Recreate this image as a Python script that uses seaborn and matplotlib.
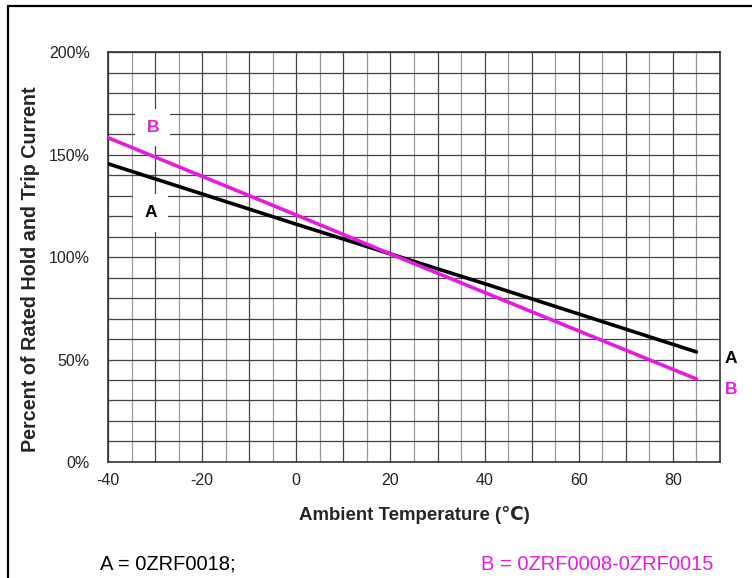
import numpy as np
import pandas as pd
import matplotlib.pyplot as plt
from matplotlib.lines import Line2D
from matplotlib.ticker import PercentFormatter
import seaborn as sns

sns.set_style('white')
plt.rcParams['font.family'] = ['Liberation Sans', 'DejaVu Sans']
plt.rcParams['axes.unicode_minus'] = False

temp = [-40, 0, 20, 40, 85]
pct_a = [145.5, 116.0, 101.5, 87.0, 53.7]
pct_b = [158.2, 120.5, 101.5, 82.7, 40.5]
x_ticks = [-40, -20, 0, 20, 40, 60, 80]
y_ticks = [0, 50, 100, 150, 200]
name_a = 'A = 0ZRF0018;'
name_b = 'B = 0ZRF0008-0ZRF0015'

magenta = '#E51BE0'

df = pd.DataFrame({
    'temp': temp * 2,
    'pct': pct_a + pct_b,
    'curve': ['A'] * len(temp) + ['B'] * len(temp),
})

fig = plt.figure(figsize=(7.52, 5.78), dpi=100)
ax = fig.add_axes([0.1436, 0.2007, 0.8138, 0.7093])

# grid
for x in np.arange(-40, 91, 5):
    ax.axvline(x, color='#444444' if x % 10 == 0 else '#9a9a9a', lw=0.9, zorder=1)
for y in np.arange(0, 201, 10):
    ax.axhline(y, color='#444444', lw=0.9, zorder=1)

sns.lineplot(data=df, x='temp', y='pct', hue='curve',
             palette={'A': 'black', 'B': magenta}, lw=2.6,
             legend=False, ax=ax, zorder=3)

ax.set_xlim(-40, 90)
ax.set_ylim(0, 200)
ax.set_xticks(x_ticks)
ax.set_yticks(y_ticks)
ax.yaxis.set_major_formatter(PercentFormatter(decimals=0))
ax.tick_params(length=0, labelsize=11.5, colors='#222222')
ax.tick_params(axis='y', pad=13)
ax.tick_params(axis='x', pad=8)
for s in ax.spines.values():
    s.set_color('#333333')
    s.set_linewidth(1.2)

ax.set_xlabel('Ambient Temperature (℃)', fontsize=13.4, fontweight='bold', labelpad=13)
ax.set_ylabel('Percent of Rated Hold and Trip Current', fontsize=14.2,
              fontweight='bold', va='center')
ax.yaxis.set_label_coords(-0.127, 0.47)

box = dict(facecolor='white', edgecolor='none', pad=8)
ax.text(-30.5, 163, 'B', color=magenta, fontsize=12.5, fontweight='bold',
        ha='center', va='center', bbox=box, zorder=2)
ax.text(-31, 121.5, 'A', color='black', fontsize=12.5, fontweight='bold',
        ha='center', va='center', bbox=box, zorder=2)
ax.text(92.3, 50.5, 'A', color='black', fontsize=12.5, fontweight='bold',
        ha='center', va='center', clip_on=False)
ax.text(92.3, 35.6, 'B', color=magenta, fontsize=12.5, fontweight='bold',
        ha='center', va='center', clip_on=False)

fig.text(100 / 752, 1 - 564 / 578, name_a, fontsize=14.5, color='black',
         ha='left', va='center')
fig.text(713 / 752, 1 - 564 / 578, name_b, fontsize=14.5, color=magenta,
         ha='right', va='center')

# frame around the picture
fig.add_artist(Line2D([8 / 752, 1], [1 - 6 / 578] * 2, color='black', lw=1.6))
fig.add_artist(Line2D([8 / 752] * 2, [0, 1 - 6 / 578], color='black', lw=1.6))

fig.savefig('out.png', dpi=100)
